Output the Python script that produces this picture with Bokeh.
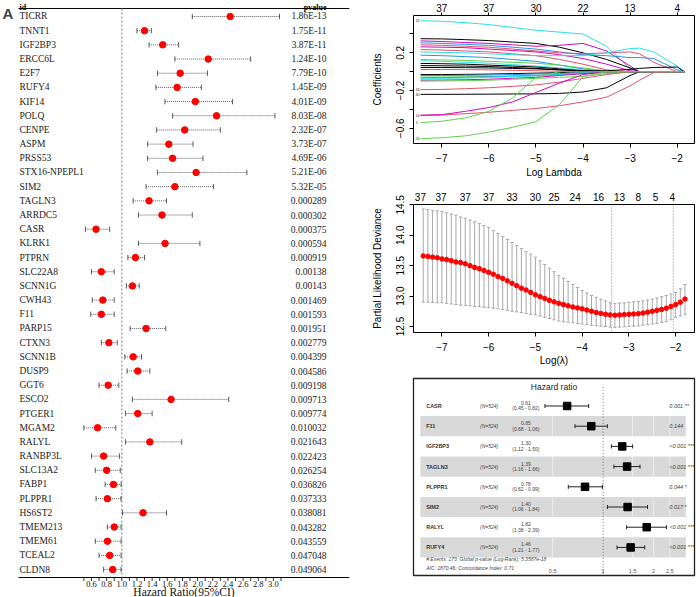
from bokeh.plotting import figure
from bokeh.models import Range1d, LinearAxis, FixedTicker, Label, Span
from bokeh.layouts import row, column
from bokeh.embed import file_html
from bokeh.resources import INLINE
from bokeh.core.properties import value
import math

SANS = "Liberation Sans"
SERIF = "Liberation Serif"

# ---------------- Panel A data (univariate Cox) ----------------
genes = ["TICRR", "TNNT1", "IGF2BP3", "ERCC6L", "E2F7", "RUFY4", "KIF14", "POLQ", "CENPE", "ASPM",
         "PRSS53", "STX16-NPEPL1", "SIM2", "TAGLN3", "ARRDC5", "CASR", "KLRK1", "PTPRN", "SLC22A8", "SCNN1G",
         "CWH43", "F11", "PARP15", "CTXN3", "SCNN1B", "DUSP9", "GGT6", "ESCO2", "PTGER1", "MGAM2",
         "RALYL", "RANBP3L", "SLC13A2", "FABP1", "PLPPR1", "HS6ST2", "TMEM213", "TMEM61", "TCEAL2", "CLDN8"]
hr = [2.43, 1.30, 1.54, 2.14, 1.77, 1.73, 1.97, 2.25, 1.83, 1.62,
      1.67, 1.98, 1.70, 1.36, 1.53, 0.66, 1.57, 1.18, 0.73, 1.14,
      0.75, 0.73, 1.32, 0.83, 1.15, 1.21, 0.82, 1.65, 1.21, 0.68,
      1.37, 0.76, 0.80, 0.89, 0.81, 1.28, 0.90, 0.81, 0.84, 0.88]
hr_low = [1.93, 1.20, 1.36, 1.70, 1.47, 1.45, 1.57, 1.67, 1.46, 1.34,
          1.34, 1.47, 1.32, 1.15, 1.22, 0.52, 1.22, 1.08, 0.60, 1.06,
          0.61, 0.59, 1.11, 0.73, 1.04, 1.07, 0.70, 1.14, 1.05, 0.50,
          1.05, 0.60, 0.65, 0.78, 0.66, 1.01, 0.81, 0.65, 0.70, 0.76]
hr_high = [3.08, 1.39, 1.75, 2.70, 2.13, 2.05, 2.46, 3.02, 2.30, 1.94,
           2.07, 2.65, 2.21, 1.59, 1.93, 0.84, 2.03, 1.30, 0.90, 1.23,
           0.90, 0.90, 1.58, 0.94, 1.26, 1.37, 0.96, 2.41, 1.40, 0.92,
           1.79, 0.97, 0.98, 0.99, 0.99, 1.59, 0.99, 0.99, 0.99, 0.99]
pvals = ["1.86E-13", "1.75E-11", "3.87E-11", "1.24E-10", "7.79E-10", "1.45E-09", "4.01E-09", "8.03E-08",
         "2.32E-07", "3.73E-07", "4.69E-06", "5.21E-06", "5.32E-05", "0.000289", "0.000302", "0.000375",
         "0.000594", "0.000919", "0.00138", "0.00143", "0.001469", "0.001593", "0.001951", "0.002779",
         "0.004399", "0.004586", "0.009198", "0.009713", "0.009774", "0.010032", "0.021643", "0.022423",
         "0.026254", "0.036826", "0.037333", "0.038081", "0.043282", "0.043559", "0.047048", "0.049064"]
hr_ticks = [0.5, 0.6, 0.7, 0.8, 0.9, 1.0, 1.1, 1.2, 1.3, 1.4, 1.5, 1.6, 1.7, 1.8, 1.9, 2.0,
            2.1, 2.2, 2.3, 2.4, 2.5, 2.6, 2.7, 2.8, 2.9, 3.0, 3.1]
hr_label_ticks = [0.6, 0.8, 1.0, 1.2, 1.4, 1.6, 1.8, 2.0, 2.2, 2.4, 2.6, 2.8, 3.0]
hr_tick_labels = ["0.6", "0.8", "1.0", "1.2", "1.4", "1.6", "1.8", "2.0", "2.2", "2.4", "2.6", "2.8", "3.0"]

# ---------------- Panel B data (LASSO coefficient paths) ----------------
lasso_loglam = [-7.45, -7.0, -6.5, -6.0, -5.5, -5.0, -4.5, -4.0, -3.5, -3.0, -2.8, -2.5, -2.0, -1.85]
coef_paths = [
    [0.54, 0.535, 0.52, 0.50, 0.47, 0.44, 0.42, 0.40, 0.27, 0.03, 0, 0, 0, 0],
    [0.35, 0.348, 0.34, 0.33, 0.315, 0.30, 0.26, 0.20, 0.13, 0.04, 0, 0, 0, 0],
    [0.327, 0.32, 0.31, 0.30, 0.285, 0.27, 0.28, 0.30, 0.22, 0.06, 0, 0, 0, 0],
    [0.306, 0.30, 0.29, 0.28, 0.26, 0.24, 0.21, 0.18, 0.17, 0.15, 0.15, 0.14, 0.02, 0],
    [0.285, 0.28, 0.27, 0.26, 0.24, 0.22, 0.20, 0.19, 0.20, 0.21, 0.19, 0.10, 0, 0],
    [0.264, 0.26, 0.255, 0.24, 0.225, 0.21, 0.18, 0.14, 0.08, 0.01, 0, 0, 0, 0],
    [0.235, 0.23, 0.22, 0.21, 0.19, 0.17, 0.13, 0.08, 0.02, 0, 0, 0, 0, 0],
    [0.21, 0.205, 0.20, 0.19, 0.18, 0.17, 0.17, 0.17, 0.20, 0.245, 0.25, 0.21, 0.06, 0],
    [0.175, 0.17, 0.16, 0.15, 0.13, 0.11, 0.07, 0.03, 0, 0, 0, 0, 0, 0],
    [0.13, 0.125, 0.12, 0.11, 0.10, 0.09, 0.07, 0.04, 0.01, 0, 0, 0, 0, 0],
    [0.116, 0.11, 0.10, 0.09, 0.075, 0.06, 0.04, 0.02, 0, 0, 0, 0, 0, 0],
    [0.088, 0.085, 0.08, 0.07, 0.06, 0.05, 0.03, 0.01, 0, 0, 0, 0, 0, 0],
    [0.065, 0.063, 0.06, 0.055, 0.045, 0.035, 0.02, 0.005, 0, 0, 0, 0, 0, 0],
    [0.045, 0.045, 0.043, 0.04, 0.035, 0.03, 0.02, 0.01, 0.01, 0.025, 0.035, 0.045, 0.05, 0],
    [0.024, 0.024, 0.022, 0.02, 0.015, 0.01, 0.005, 0, 0, 0, 0, 0, 0, 0],
    [-0.03, -0.03, -0.028, -0.025, -0.02, -0.015, -0.01, 0, 0, 0, 0, 0, 0, 0],
    [-0.04, -0.04, -0.038, -0.035, -0.03, -0.025, -0.02, -0.01, 0, 0, 0, 0, 0, 0],
    [-0.057, -0.056, -0.054, -0.05, -0.045, -0.04, -0.03, -0.02, -0.01, 0, 0, 0, 0, 0],
    [-0.065, -0.064, -0.06, -0.055, -0.048, -0.04, -0.03, -0.015, 0, 0, 0, 0, 0, 0],
    [-0.075, -0.07, -0.067, -0.06, -0.052, -0.045, -0.03, -0.015, 0, 0, 0, 0, 0, 0],
    [-0.09, -0.088, -0.085, -0.08, -0.07, -0.06, -0.04, -0.02, 0, 0, 0, 0, 0, 0],
    [-0.10, -0.098, -0.095, -0.09, -0.08, -0.07, -0.06, -0.05, -0.02, 0, 0, 0, 0, 0],
    [-0.19, -0.188, -0.18, -0.17, -0.155, -0.14, -0.11, -0.07, -0.03, 0, 0, 0, 0, 0],
    [-0.24, -0.24, -0.239, -0.238, -0.236, -0.235, -0.23, -0.215, -0.17, -0.04, 0, 0, 0, 0],
    [-0.465, -0.46, -0.445, -0.43, -0.41, -0.39, -0.36, -0.32, -0.27, -0.15, -0.09, -0.01, 0, 0],
    [-0.46, -0.455, -0.42, -0.38, -0.32, -0.22, -0.12, -0.03, 0, 0, 0, 0, 0, 0],
    [-0.54, -0.525, -0.49, -0.42, -0.28, -0.06, 0, 0, 0, 0, 0, 0, 0, 0],
    [-0.71, -0.70, -0.68, -0.64, -0.59, -0.53, -0.35, -0.05, 0, 0, 0, 0, 0, 0],
]
coef_colors = ["#28E2E5", "#000000", "#CD0BBC", "#2297E6", "#DF536B", "#CD0BBC", "#DF536B", "#28E2E5",
               "#2297E6", "#61D04F", "#28E2E5", "#000000", "#000000", "#000000", "#DF536B", "#000000",
               "#2297E6", "#61D04F", "#2297E6", "#28E2E5", "#CD0BBC", "#61D04F", "#DF536B", "#000000",
               "#DF536B", "#CD0BBC", "#61D04F", "#61D04F"]
coef_labels = ["31", "", "", "", "", "", "", "", "", "", "", "", "", "", "", "", "", "", "", "", "", "",
               "16", "40", "14", "", "3", "20"]
lasso_ticks = [-7, -6, -5, -4, -3, -2]
lasso_nz = ["37", "37", "30", "22", "13", "4"]
coef_ticks = [-0.6, -0.4, -0.2, 0.0, 0.2, 0.4]
coef_tick_labels = ["\u22120.6", "", "\u22120.2", "", "0.2", ""]

# ---------------- Panel C data (cross-validation) ----------------
cv_loglam = [-7.4, -7.3, -7.2, -7.1, -7.0, -6.9, -6.8, -6.7, -6.6, -6.5,
             -6.4, -6.3, -6.2, -6.1, -6.0, -5.9, -5.8, -5.7, -5.6, -5.5,
             -5.4, -5.3, -5.2, -5.1, -5.0, -4.9, -4.8, -4.7, -4.6, -4.5,
             -4.4, -4.3, -4.2, -4.1, -4.0, -3.9, -3.8, -3.7, -3.6, -3.5,
             -3.4, -3.3, -3.2, -3.1, -3.0, -2.9, -2.8, -2.7, -2.6, -2.5,
             -2.4, -2.3, -2.2, -2.1, -2.0, -1.9, -1.8]
cv_mean = [13.66, 13.65, 13.64, 13.63, 13.61, 13.60, 13.58, 13.56, 13.55, 13.53,
           13.50, 13.47, 13.45, 13.42, 13.39, 13.36, 13.32, 13.29, 13.25, 13.21,
           13.17, 13.13, 13.10, 13.06, 13.02, 12.99, 12.96, 12.93, 12.905, 12.88,
           12.86, 12.84, 12.82, 12.805, 12.79, 12.77, 12.75, 12.73, 12.715, 12.70,
           12.69, 12.685, 12.69, 12.695, 12.70, 12.705, 12.71, 12.72, 12.735, 12.75,
           12.765, 12.78, 12.80, 12.83, 12.86, 12.90, 12.95]
cv_upper = [14.43, 14.42, 14.41, 14.40, 14.39, 14.37, 14.35, 14.33, 14.30, 14.28,
            14.25, 14.22, 14.19, 14.16, 14.13, 14.08, 14.03, 13.98, 13.93, 13.88,
            13.83, 13.78, 13.73, 13.69, 13.64, 13.58, 13.52, 13.46, 13.40, 13.34,
            13.29, 13.24, 13.19, 13.14, 13.09, 13.05, 13.01, 12.98, 12.95, 12.92,
            12.89, 12.88, 12.885, 12.89, 12.90, 12.905, 12.91, 12.92, 12.935, 12.95,
            12.97, 12.99, 13.01, 13.035, 13.06, 13.12, 13.19]
cv_lower = [12.90, 12.90, 12.895, 12.89, 12.89, 12.88, 12.87, 12.86, 12.85, 12.845,
            12.84, 12.83, 12.825, 12.815, 12.81, 12.80, 12.79, 12.78, 12.765, 12.75,
            12.74, 12.73, 12.715, 12.70, 12.69, 12.67, 12.65, 12.63, 12.61, 12.59,
            12.58, 12.57, 12.56, 12.55, 12.54, 12.53, 12.52, 12.51, 12.505, 12.50,
            12.49, 12.485, 12.49, 12.495, 12.50, 12.505, 12.51, 12.52, 12.53, 12.54,
            12.55, 12.565, 12.58, 12.61, 12.65, 12.675, 12.70]
cv_nz_pos = [-7.46, -7.02, -6.5, -6.0, -5.5, -5.0, -4.6, -4.15, -3.65, -3.2, -2.8, -2.43, -2.07]
cv_nz = ["37", "37", "37", "37", "33", "30", "25", "24", "16", "13", "8", "5", "4"]
lambda_min = -3.37
lambda_1se = -2.05
cv_yticks = [12.5, 13.0, 13.5, 14.0, 14.5]

# ---------------- Panel D data (multivariate Cox forest) ----------------
d_genes = ["CASR", "F11", "IGF2BP3", "TAGLN3", "PLPPR1", "SIM2", "RALYL", "RUFY4"]
d_hr = [0.61, 0.85, 1.30, 1.39, 0.78, 1.40, 1.82, 1.46]
d_lo = [0.45, 0.68, 1.12, 1.16, 0.62, 1.06, 1.38, 1.21]
d_hi = [0.82, 1.06, 1.50, 1.66, 0.99, 1.84, 2.39, 1.77]
d_n = ["(N=524)"] * 8
d_p = ["0.001 **", "0.144", "<0.001 ***", "<0.001 ***", "0.044 *", "0.017 *", "<0.001 ***", "<0.001 ***"]
d_ticks = [0.5, 1, 1.5, 2, 2.5]
d_footer = ["# Events: 173; Global p-value (Log-Rank): 5.3587e-18",
            "AIC: 1870.46; Concordance Index: 0.71"]


def new_fig(w, h, xr, yr, bl, br, bt, bb):
    p = figure(width=w, height=h, x_range=xr, y_range=yr, x_axis_type=None, y_axis_type=None,
               output_backend="svg", toolbar_location=None,
               min_border_left=bl, min_border_right=br, min_border_top=bt, min_border_bottom=bb)
    p.background_fill_color = "white"
    p.border_fill_color = "white"
    return p


def style_axis(ax, size="10px", font=SANS):
    ax.major_label_text_font = font
    ax.major_label_text_font_size = size
    ax.major_label_text_color = "black"
    ax.axis_label_text_font = font
    ax.axis_label_text_font_style = "normal"
    ax.axis_label_text_font_size = size
    ax.axis_label_text_color = "black"
    ax.axis_line_color = None
    ax.minor_tick_line_color = None
    ax.major_tick_in = 0
    ax.major_tick_out = 4
    ax.major_tick_line_color = "black"


def minus(s):
    return s.replace("-", "\u2212")


# =============== Panel A (350 x 597, frame = whole figure) ===============
rows_a = list(range(len(genes)))
pA = new_fig(350, 597, Range1d(-0.6003, 4.017), Range1d(40.97, -1.128), 0, 0, 0, 0)
pA.outline_line_color = None
pA.segment(x0=[-0.363, -0.363], y0=[-0.564, 39.56], x1=[4.0, 4.0], y1=[-0.564, 39.56],
           line_color="black", line_width=1)
pA.segment(x0=[1.0], y0=[-0.564], x1=[1.0], y1=[39.56], line_color="#999999", line_width=1.3,
           line_dash="2 2")
pA.segment(x0=hr_low, y0=rows_a, x1=hr_high, y1=rows_a, line_color="#333333", line_width=0.8,
           line_dash="1 1")
pA.segment(x0=hr_low, y0=[r - 0.19 for r in rows_a], x1=hr_low, y1=[r + 0.19 for r in rows_a],
           line_color="#333333", line_width=0.8)
pA.segment(x0=hr_high, y0=[r - 0.19 for r in rows_a], x1=hr_high, y1=[r + 0.19 for r in rows_a],
           line_color="#333333", line_width=0.8)
pA.scatter(x=hr, y=rows_a, size=6.5, marker="circle", fill_color="#FF0000", line_color="#FF0000")
pA.text(x=[-0.350] * len(genes), y=rows_a, text=genes, text_font=value(SERIF),
        text_font_size=value("9.5px"), text_baseline="middle", text_align="left", text_color="#222222")
pA.text(x=[3.70] * len(genes), y=rows_a, text=pvals, text_font=value(SERIF),
        text_font_size=value("9.5px"), text_baseline="middle", text_align="right", text_color="#222222")
pA.text(x=[-0.350], y=[-0.64], text=["id"], text_font=value(SERIF), text_font_size=value("8px"),
        text_font_style="bold", text_baseline="alphabetic", text_align="left")
pA.text(x=[3.70], y=[-0.64], text=["pvalue"], text_font=value(SERIF), text_font_size=value("8px"),
        text_font_style="bold", text_baseline="alphabetic", text_align="right")
# x axis of panel A (ticks, labels, title) drawn in the data scale
pA.segment(x0=hr_ticks, y0=[39.56] * len(hr_ticks), x1=hr_ticks, y1=[39.81] * len(hr_ticks),
           line_color="black", line_width=0.8)
pA.text(x=hr_label_ticks, y=[40.0] * len(hr_label_ticks), text=hr_tick_labels, text_font=value(SERIF),
        text_font_size=value("8.5px"), text_baseline="middle", text_align="center", text_color="#111111")
pA.text(x=[1.82], y=[40.6], text=["Hazard Ratio(95%CI)"], text_font=value(SERIF),
        text_font_size=value("11.5px"), text_baseline="middle", text_align="center", text_color="#111111")
pA.add_layout(Label(x=-0.574, y=-0.21, text="A", text_font=SANS, text_font_size="15px",
                    text_font_style="bold", text_baseline="middle", text_align="left"))

# =============== Panel B (346 x 186) ===============
pB = new_fig(346, 186, Range1d(-7.60, -1.633), Range1d(-0.761, 0.596), 62, 2, 15, 43)
pB.outline_line_color = "black"
pB.outline_line_width = 1
for path, col in zip(coef_paths, coef_colors):
    pB.line(x=lasso_loglam, y=path, line_color=col, line_width=1)
lab_y = [path[0] for path, lab in zip(coef_paths, coef_labels) if lab]
lab_t = [lab for lab in coef_labels if lab]
pB.text(x=[-7.56] * len(lab_t), y=lab_y, text=lab_t, text_font=value(SANS), text_font_size=value("4px"),
        text_baseline="middle", text_align="left", text_color="#333333")
axB_b = LinearAxis(ticker=FixedTicker(ticks=lasso_ticks),
                   major_label_overrides={t: minus(str(t)) for t in lasso_ticks})
style_axis(axB_b)
axB_b.major_label_standoff = 6
axB_b.axis_label = "Log Lambda"
axB_b.axis_label_standoff = 2
pB.add_layout(axB_b, "below")
axB_l = LinearAxis(ticker=FixedTicker(ticks=coef_ticks),
                   major_label_overrides={t: l for t, l in zip(coef_ticks, coef_tick_labels)})
style_axis(axB_l)
axB_l.major_label_orientation = "vertical"
axB_l.major_label_standoff = 5
axB_l.axis_label = "Coefficients"
axB_l.axis_label_standoff = 11
pB.add_layout(axB_l, "left")
axB_t = LinearAxis(ticker=FixedTicker(ticks=lasso_ticks),
                   major_label_overrides={t: l for t, l in zip(lasso_ticks, lasso_nz)})
style_axis(axB_t)
axB_t.major_tick_out = 3
axB_t.major_label_standoff = 1
pB.add_layout(axB_t, "above")
pB.add_layout(Label(x=-8.778, y=0.628, text="B", text_font=SANS, text_font_size="15px",
                    text_font_style="bold", text_baseline="middle", text_align="left"))

# =============== Panel C (346 x 186) ===============
pC = new_fig(346, 186, Range1d(-7.608, -1.597), Range1d(12.401, 14.505), 63, 2, 18, 40)
pC.outline_line_color = "black"
pC.outline_line_width = 1
pC.segment(x0=cv_loglam, y0=cv_lower, x1=cv_loglam, y1=cv_upper, line_color="#A9A9A9", line_width=1)
pC.segment(x0=[x - 0.035 for x in cv_loglam], y0=cv_upper, x1=[x + 0.035 for x in cv_loglam], y1=cv_upper,
           line_color="#A9A9A9", line_width=1)
pC.segment(x0=[x - 0.035 for x in cv_loglam], y0=cv_lower, x1=[x + 0.035 for x in cv_loglam], y1=cv_lower,
           line_color="#A9A9A9", line_width=1)
pC.add_layout(Span(location=lambda_min, dimension="height", line_color="#888888", line_width=1,
                   line_dash="1 2"))
pC.add_layout(Span(location=lambda_1se, dimension="height", line_color="#888888", line_width=1,
                   line_dash="1 2"))
pC.scatter(x=cv_loglam, y=cv_mean, size=4.5, marker="circle", fill_color="#FF0000", line_color="#FF0000")
axC_b = LinearAxis(ticker=FixedTicker(ticks=lasso_ticks),
                   major_label_overrides={t: minus(str(t)) for t in lasso_ticks})
style_axis(axC_b)
axC_b.major_label_standoff = 6
axC_b.axis_label = "Log(\u03bb)"
axC_b.axis_label_standoff = 1
pC.add_layout(axC_b, "below")
axC_l = LinearAxis(ticker=FixedTicker(ticks=cv_yticks),
                   major_label_overrides={t: "%.1f" % t for t in cv_yticks})
style_axis(axC_l)
axC_l.major_label_orientation = "vertical"
axC_l.major_label_standoff = 5
axC_l.axis_label = "Partial Likelihood Deviance"
axC_l.axis_label_standoff = 11
pC.add_layout(axC_l, "left")
axC_t = LinearAxis(ticker=FixedTicker(ticks=cv_nz_pos),
                   major_label_overrides={t: l for t, l in zip(cv_nz_pos, cv_nz)})
style_axis(axC_t)
axC_t.major_tick_out = 0
axC_t.major_tick_line_color = None
axC_t.major_label_standoff = 4
pC.add_layout(axC_t, "above")
pC.add_layout(Label(x=-8.82, y=14.666, text="C", text_font=SANS, text_font_size="15px",
                    text_font_style="bold", text_baseline="middle", text_align="left"))
pC.add_layout(Label(x=-8.786, y=11.913, text="D", text_font=SANS, text_font_size="15px",
                    text_font_style="bold", text_baseline="middle", text_align="left"))

# =============== Panel D (346 x 225) ===============
rows_d = [i + 1 for i in range(len(d_genes))]
pD = new_fig(346, 225, Range1d(-2.604, 1.255), Range1d(9.39, -0.361), 20, 1, 6, 22)
pD.outline_line_color = "#222222"
pD.outline_line_width = 1.3
band_rows = [r for r in rows_d if r % 2 == 0]
pD.quad(left=-2.51, right=1.136, top=[r - 0.5 for r in band_rows], bottom=[r + 0.5 for r in band_rows],
        fill_color="#D9D9D9", line_color=None)
grid_x = [math.log(t) for t in d_ticks if t != 1]
pD.segment(x0=grid_x, y0=[0.5] * len(grid_x), x1=grid_x, y1=[8.5] * len(grid_x),
           line_color="white", line_width=0.6, line_alpha=0.9)
pD.segment(x0=[0.0], y0=[0.05], x1=[0.0], y1=[9.39], line_color="#555555", line_width=0.8, line_dash="1 2")
ln_hr = [math.log(v) for v in d_hr]
ln_lo = [math.log(v) for v in d_lo]
ln_hi = [math.log(v) for v in d_hi]
pD.segment(x0=ln_lo, y0=rows_d, x1=ln_hi, y1=rows_d, line_color="#222222", line_width=1)
pD.segment(x0=ln_lo, y0=[r - 0.1 for r in rows_d], x1=ln_lo, y1=[r + 0.1 for r in rows_d],
           line_color="#222222", line_width=1)
pD.segment(x0=ln_hi, y0=[r - 0.1 for r in rows_d], x1=ln_hi, y1=[r + 0.1 for r in rows_d],
           line_color="#222222", line_width=1)
pD.scatter(x=ln_hr, y=rows_d, marker="square", size=7.5, fill_color="black", line_color="black")
pD.text(x=[-2.43] * 8, y=rows_d, text=d_genes, text_font=value(SANS), text_font_size=value("5.5px"),
        text_font_style="bold", text_baseline="middle", text_align="left", text_color="#333333")
pD.text(x=[-1.69] * 8, y=rows_d, text=d_n, text_font=value(SANS), text_font_size=value("5px"),
        text_font_style="italic", text_baseline="middle", text_align="left", text_color="#444444")
pD.text(x=[-1.061] * 8, y=[r - 0.15 for r in rows_d], text=["%.2f" % v for v in d_hr],
        text_font=value(SANS), text_font_size=value("5px"), text_baseline="middle", text_align="center",
        text_color="#444444")
pD.text(x=[-1.061] * 8, y=[r + 0.12 for r in rows_d],
        text=["(%.2f - %.2f)" % (a, b) for a, b in zip(d_lo, d_hi)],
        text_font=value(SANS), text_font_size=value("5px"), text_baseline="middle", text_align="center",
        text_color="#444444")
pD.text(x=[0.909] * 8, y=rows_d, text=d_p, text_font=value(SANS), text_font_size=value("5.5px"),
        text_font_style="italic", text_baseline="middle", text_align="left", text_color="#444444")
pD.text(x=[-0.675], y=[0.084], text=["Hazard ratio"], text_font=value(SANS), text_font_size=value("8.5px"),
        text_baseline="middle", text_align="center", text_color="#222222")
pD.text(x=[-2.43, -2.43], y=[8.55, 9.0], text=d_footer, text_font=value(SANS),
        text_font_size=value("5px"), text_font_style="italic", text_baseline="middle", text_align="left",
        text_color="#444444")
pD.text(x=[math.log(t) for t in d_ticks], y=[9.15] * len(d_ticks), text=[("%g" % t) for t in d_ticks],
        text_font=value(SANS), text_font_size=value("5.5px"), text_baseline="middle", text_align="center",
        text_color="#555555")

layout = row(pA, column(pB, pC, pD))
open("out.html", "w").write(file_html(layout, INLINE))
